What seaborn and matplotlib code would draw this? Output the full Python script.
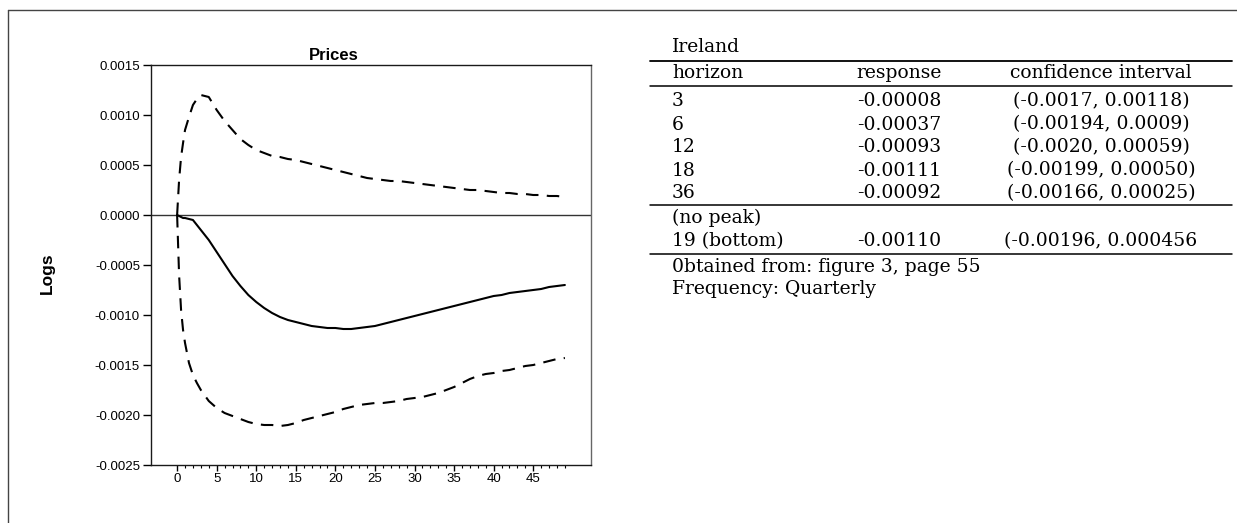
import numpy as np
import pandas as pd
import matplotlib
matplotlib.use('Agg')
from matplotlib import pyplot as plt
from matplotlib.lines import Line2D
import seaborn as sns

# impulse response of prices (Ireland)
steps = [0, 0.25, 0.5, 0.75, 1, 1.5, 2, 2.5, 3] + list(range(4, 50))

response = [0.0, -0.00001, -0.00002, -0.00003, -0.00003, -0.00004, -0.00005, -0.00010, -0.00015,
            -0.00025, -0.00037, -0.00049, -0.00061, -0.00071, -0.00080, -0.00087, -0.00093,
            -0.00098, -0.00102, -0.00105, -0.00107, -0.00109, -0.00111, -0.00112, -0.00113,
            -0.00113, -0.00114, -0.00114, -0.00113, -0.00112,
            -0.00111, -0.00109, -0.00107, -0.00105, -0.00103, -0.00101, -0.00099, -0.00097,
            -0.00095, -0.00093, -0.00091, -0.00089, -0.00087, -0.00085, -0.00083, -0.00081,
            -0.00080, -0.00078, -0.00077, -0.00076, -0.00075, -0.00074, -0.00072, -0.00071,
            -0.00070]

upper = [0.0, 0.00035, 0.00058, 0.00072, 0.00085, 0.00098, 0.00110, 0.00116, 0.00120,
         0.00118, 0.00105, 0.00094, 0.00085, 0.00076, 0.00070, 0.00065, 0.00062, 0.00059,
         0.00058, 0.00056, 0.00055, 0.00053, 0.00051, 0.00049, 0.00047, 0.00045, 0.00043,
         0.00041, 0.00039, 0.00037, 0.00036, 0.00035, 0.00034, 0.00034, 0.00033, 0.00032,
         0.00031, 0.00030, 0.00029, 0.00028, 0.00027, 0.00026, 0.00025, 0.00025, 0.00024,
         0.00023, 0.00022, 0.00022, 0.00021, 0.00021, 0.00020, 0.00020, 0.00019, 0.00019,
         0.00018]

lower = [0.0, -0.00060, -0.00095, -0.00115, -0.00128, -0.00148, -0.00160, -0.00168, -0.00175,
         -0.00186, -0.00193, -0.00198, -0.00201, -0.00204, -0.00207, -0.00209, -0.00210,
         -0.00210, -0.00211, -0.00210, -0.00208, -0.00205, -0.00203, -0.00201, -0.00199,
         -0.00197, -0.00194, -0.00192, -0.00190, -0.00189, -0.00188, -0.00188, -0.00187,
         -0.00186, -0.00184, -0.00183, -0.00182, -0.00180, -0.00178, -0.00175, -0.00172,
         -0.00168, -0.00164, -0.00161, -0.00159, -0.00158, -0.00156, -0.00155, -0.00153,
         -0.00151, -0.00150, -0.00148, -0.00146, -0.00144, -0.00143]

y_ticks = [0.0015, 0.0010, 0.0005, 0.0, -0.0005, -0.0010, -0.0015, -0.0020, -0.0025]
y_labels = ['0.0015', '0.0010', '0.0005', '0.0000', '-0.0005', '-0.0010', '-0.0015', '-0.0020', '-0.0025']
x_ticks = [0, 5, 10, 15, 20, 25, 30, 35, 40, 45]

# table on the right
table_title = 'Ireland'
table_header = ['horizon', 'response', 'confidence interval']
table_rows = [['3', '-0.00008', '(-0.0017, 0.00118)'],
              ['6', '-0.00037', '(-0.00194, 0.0009)'],
              ['12', '-0.00093', '(-0.0020, 0.00059)'],
              ['18', '-0.00111', '(-0.00199, 0.00050)'],
              ['36', '-0.00092', '(-0.00166, 0.00025)']]
peak_rows = [['(no peak)', '', ''],
             ['19 (bottom)', '-0.00110', '(-0.00196, 0.000456']]
notes = ['0btained from: figure 3, page 55', 'Frequency: Quarterly']

sns.set_style('ticks')
plt.rcParams['font.family'] = ['Liberation Sans', 'DejaVu Sans']
plt.rcParams['text.color'] = 'black'
plt.rcParams['xtick.color'] = 'black'
plt.rcParams['ytick.color'] = 'black'

W, H = 1237, 523
fig = plt.figure(figsize=(W / 100, H / 100), dpi=100)

def fx(px):
    return px / W

def fy(py):
    return 1 - py / H

ax = fig.add_axes([fx(151), fy(465), (591 - 151) / W, (465 - 65) / H])
ax.axhline(0, color='#333333', lw=1.0, zorder=1)
sns.lineplot(x=steps, y=response, ax=ax, color='black', lw=1.5, sort=False)
sns.lineplot(x=steps, y=upper, ax=ax, color='black', lw=1.5, sort=False,
             linestyle=(0, (6, 4)))
sns.lineplot(x=steps, y=lower, ax=ax, color='black', lw=1.5, sort=False,
             linestyle=(0, (6, 4)))

ax.set_xlim(-3.3, 52.3)
ax.set_ylim(-0.0025, 0.0015)
ax.set_xticks(x_ticks)
ax.set_xticklabels([str(t) for t in x_ticks])
ax.set_xticks(list(range(0, 50)), minor=True)
ax.set_yticks(y_ticks)
ax.set_yticklabels(y_labels)
ax.tick_params(axis='y', direction='out', length=6, width=1, pad=2, labelsize=9.5)
ax.tick_params(axis='x', which='major', direction='out', length=4, width=1, pad=2, labelsize=9.5)
ax.tick_params(axis='x', which='minor', direction='out', length=2, width=0.8)
for side in ['left', 'bottom', 'top']:
    ax.spines[side].set_color('#1a1a1a')
    ax.spines[side].set_linewidth(1.0)
ax.spines['right'].set_color('#666666')
ax.spines['right'].set_linewidth(1.0)
ax.set_xlabel('')
ax.set_ylabel('')

fig.text(fx(334), fy(55), 'Prices', ha='center', va='center', fontsize=12, fontweight='bold')
fig.text(fx(47), fy(273), 'Logs', rotation=90, ha='center', va='center', fontsize=12.5, fontweight='bold')

# outer frame (only left and top edges are inside the picture)
fig.add_artist(Line2D([fx(8), fx(8)], [0, fy(10)], color='#444444', lw=1, transform=fig.transFigure))
fig.add_artist(Line2D([fx(8), 1], [fy(10), fy(10)], color='#444444', lw=1, transform=fig.transFigure))

# table
serif = ['DejaVu Serif']
tsize = 13.5
col_x = [672, 899, 1101]
col_ha = ['left', 'center', 'center']

def put_row(cells, py):
    for cell, cx, ha in zip(cells, col_x, col_ha):
        if cell:
            fig.text(fx(cx), fy(py), cell, ha=ha, va='center', fontsize=tsize, family=serif)

def rule(py, lw):
    fig.add_artist(Line2D([fx(650), fx(1232)], [fy(py), fy(py)], color='black', lw=lw,
                          transform=fig.transFigure))

fig.text(fx(672), fy(47), table_title, ha='left', va='center', fontsize=tsize, family=serif)
rule(60.5, 1.3)
put_row(table_header, 73)
rule(86, 1.1)
for i, row in enumerate(table_rows):
    put_row(row, 101.5 + 23 * i)
rule(205, 1.1)
for i, row in enumerate(peak_rows):
    put_row(row, 218 + 23 * i)
rule(254, 1.1)
for i, note in enumerate(notes):
    fig.text(fx(672), fy(267 + 22 * i), note, ha='left', va='center', fontsize=tsize, family=serif)

fig.savefig('out.png', dpi=100)
